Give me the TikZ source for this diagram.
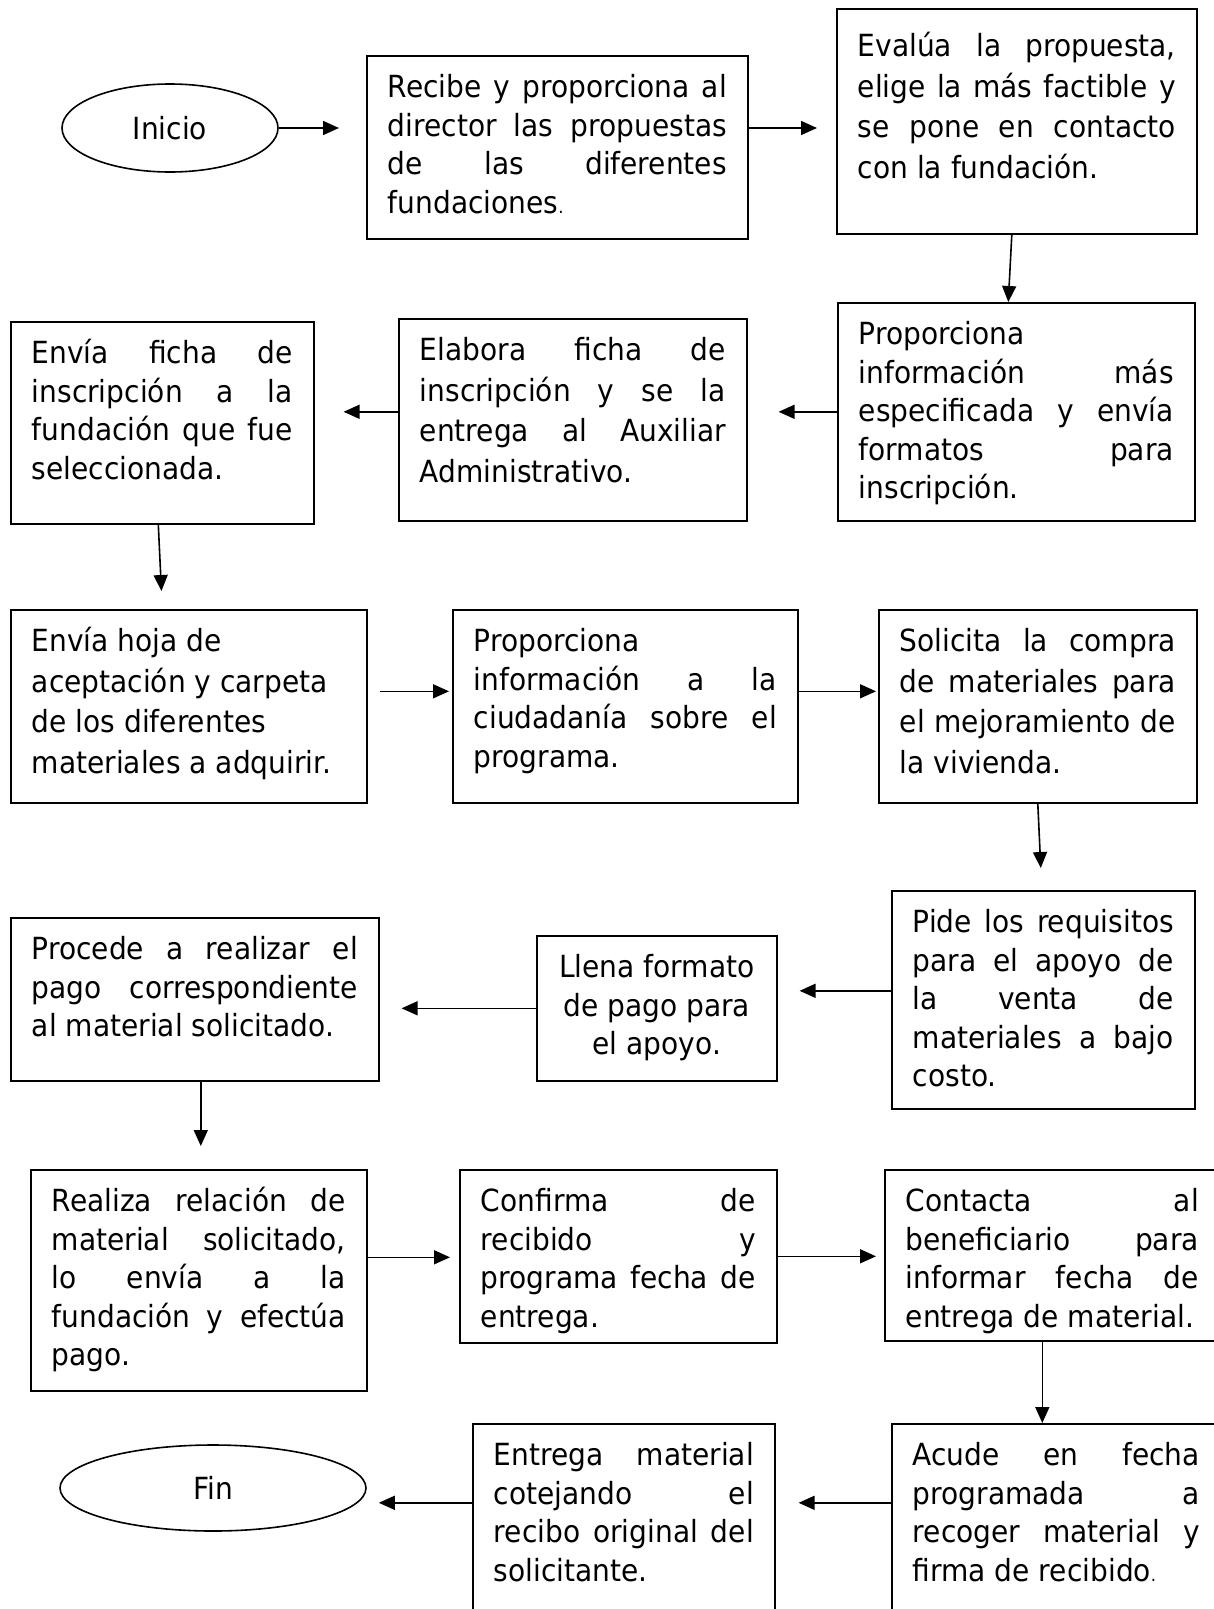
\documentclass[tikz,border=0pt]{standalone}
\usepackage{fontspec}
\setmainfont{DejaVu Sans}[FakeStretch=0.92]
\usetikzlibrary{arrows.meta,shapes.geometric}
\hbadness=10000
\vbadness=10000

% text block of a box: width, height, lines
\newcommand{\texto}[3]{\parbox[t][#2][t]{#1}{#3}}
\newcommand{\linea}[1]{\hbox to\hsize{\rule{0pt}{25pt}#1}}
\newcommand{\ultima}[1]{\hbox to\hsize{\rule{0pt}{25pt}#1\hfil}}
\newcommand{\centrada}[1]{\hbox to\hsize{\hfil\rule{0pt}{25pt}#1\hfil}}
\newcommand{\punto}{{\fontsize{18pt}{18pt}\selectfont .}}

\tikzset{
  caja/.style={draw, line width=1.6pt, anchor=north west, inner xsep=21pt, inner ysep=17pt,
    font=\fontsize{30.5pt}{38.5pt}\selectfont},
  holgada/.style={font=\fontsize{30.5pt}{40.5pt}\selectfont},
  extremo/.style={draw, ellipse, line width=1.6pt, font=\fontsize{30.5pt}{38.5pt}\selectfont},
  flecha/.style={line width=1.6pt, -{Triangle[length=16pt,width=14pt]}},
}

\begin{document}
\begin{tikzpicture}[x=1pt, y=-1pt]
    \useasboundingbox (0,0) rectangle (1214,1609);
    \clip (0,0) rectangle (1214,1609);

    % Row 1
    \node[extremo, minimum width=216pt, minimum height=88pt] (inicio) at (170,128) {Inicio};
    \node[caja] (recibe) at (366,55) {\texto{339pt}{149pt}{
        \linea{Recibe y proporciona al}
        \linea{director las propuestas}
        \linea{de las diferentes}
        \ultima{fundaciones\punto}}};
    \node[caja, holgada, inner ysep=23pt] (evalua) at (836,8) {\texto{318pt}{179pt}{
        \linea{Evalúa la propuesta,}
        \linea{elige la más factible y}
        \linea{se pone en contacto}
        \ultima{con la fundación.}}};

    % Row 2
    \node[caja] (propone) at (837,302) {\texto{315pt}{184pt}{
        \ultima{Proporciona}
        \linea{información más}
        \linea{especificada y envía}
        \linea{formatos para}
        \ultima{inscripción.}}};
    \node[caja, holgada] (elabora) at (398,318) {\texto{306pt}{168pt}{
        \linea{Elabora ficha de}
        \linea{inscripción y se la}
        \linea{entrega al Auxiliar}
        \ultima{Administrativo.}}};
    \node[caja] (enviaficha) at (10,321) {\texto{261pt}{168pt}{
        \linea{Envía ficha de}
        \linea{inscripción a la}
        \linea{fundación que fue}
        \ultima{seleccionada.}}};

    % Row 3
    \node[caja, holgada] (enviahoja) at (10,609) {\texto{314pt}{159pt}{
        \ultima{Envía hoja de}
        \ultima{aceptación y carpeta}
        \ultima{de los diferentes}
        \ultima{materiales a adquirir.}}};
    \node[caja] (informa) at (452,609) {\texto{303pt}{159pt}{
        \ultima{Proporciona}
        \linea{información a la}
        \linea{ciudadanía sobre el}
        \ultima{programa.}}};
    \node[caja, holgada] (solicita) at (878,609) {\texto{276pt}{159pt}{
        \linea{Solicita la compra}
        \linea{de materiales para}
        \linea{el mejoramiento de}
        \ultima{la vivienda.}}};

    % Row 4
    \node[caja] (pide) at (891,890) {\texto{261pt}{184pt}{
        \linea{Pide los requisitos}
        \linea{para el apoyo de}
        \linea{la venta de}
        \linea{materiales a bajo}
        \ultima{costo.}}};
    \node[caja] (llena) at (536,935) {\texto{198pt}{111pt}{
        \centrada{Llena formato}
        \centrada{de pago para}
        \centrada{el apoyo.}}};
    \node[caja] (procede) at (10,917) {\texto{326pt}{129pt}{
        \linea{Procede a realizar el}
        \linea{pago correspondiente}
        \ultima{al material solicitado.}}};

    % Row 5
    \node[caja] (realiza) at (30,1169) {\texto{294pt}{187pt}{
        \linea{Realiza relación de}
        \linea{material solicitado,}
        \linea{lo envía a la}
        \linea{fundación y efectúa}
        \ultima{pago.}}};
    \node[caja] (confirma) at (459,1169) {\texto{275pt}{139pt}{
        \linea{Confirma de}
        \linea{recibido y}
        \linea{programa fecha de}
        \ultima{entrega.}}};
    \node[caja] (contacta) at (884,1169) {\texto{293pt}{137pt}{
        \linea{Contacta al}
        \linea{beneficiario para}
        \linea{informar fecha de}
        \ultima{entrega de material.}}};

    % Row 6
    \node[caja] (acude) at (891,1423) {\texto{287pt}{196pt}{
        \linea{Acude en fecha}
        \linea{programada a}
        \linea{recoger material y}
        \ultima{firma de recibido\punto}}};
    \node[caja] (entrega) at (472,1423) {\texto{260pt}{196pt}{
        \linea{Entrega material}
        \linea{cotejando el}
        \linea{recibo original del}
        \ultima{solicitante.}}};
    \node[extremo, minimum width=306pt, minimum height=86pt] (fin) at (213,1488) {Fin};

    % Connectors
    \draw[flecha, shorten >=27pt] (inicio.east) -- (inicio.east -| recibe.west);
    \draw[flecha, shorten >=19pt] (recibe.east |- inicio.east) -- (evalua.west |- inicio.east);
    \draw[flecha] ([xshift=-5pt]evalua.south) -- ([xshift=-8pt]propone.north);
    \draw[flecha, shorten >=31pt] (propone.west) -- (propone.west -| elabora.east);
    \draw[flecha, shorten >=29pt] (elabora.west |- propone.west) -- (enviaficha.east |- propone.west);
    \draw[flecha, shorten >=18pt] ([xshift=-4pt]enviaficha.south) -- (enviaficha.south |- enviahoja.north);
    \draw[flecha, shorten <=12pt, shorten >=3pt] ([yshift=15pt]enviahoja.east) -- ([yshift=15pt]enviahoja.east -| informa.west);
    \draw[flecha, shorten >=2pt] ([yshift=15pt]informa.east) -- ([yshift=15pt]informa.east -| solicita.west);
    \draw[flecha, shorten >=22pt] (solicita.south) -- ([xshift=4pt]solicita.south |- pide.north);
    \draw[flecha, shorten >=22pt] ([yshift=9pt]pide.west) -- ([yshift=9pt]pide.west -| llena.east);
    \draw[flecha, shorten >=22pt] (llena.west) -- (llena.west -| procede.east);
    \draw[flecha, shorten >=23pt] ([xshift=6pt]procede.south) -- ([xshift=6pt]procede.south |- realiza.north);
    \draw[flecha, shorten >=9pt] ([yshift=23pt]realiza.east) -- ([yshift=23pt]realiza.east -| confirma.west);
    \draw[flecha, shorten >=8pt] (confirma.east) -- (confirma.east -| contacta.west);
    \draw[flecha] ([xshift=-10pt]contacta.south) -- ([xshift=-10pt]contacta.south |- acude.north);
    \draw[flecha, shorten >=23pt] ([yshift=36pt]acude.west) -- ([yshift=36pt]acude.west -| entrega.east);
    \draw[flecha, shorten >=12pt] ([yshift=36pt]entrega.west) -- ([yshift=36pt]entrega.west -| fin.east);
\end{tikzpicture}
\end{document}
